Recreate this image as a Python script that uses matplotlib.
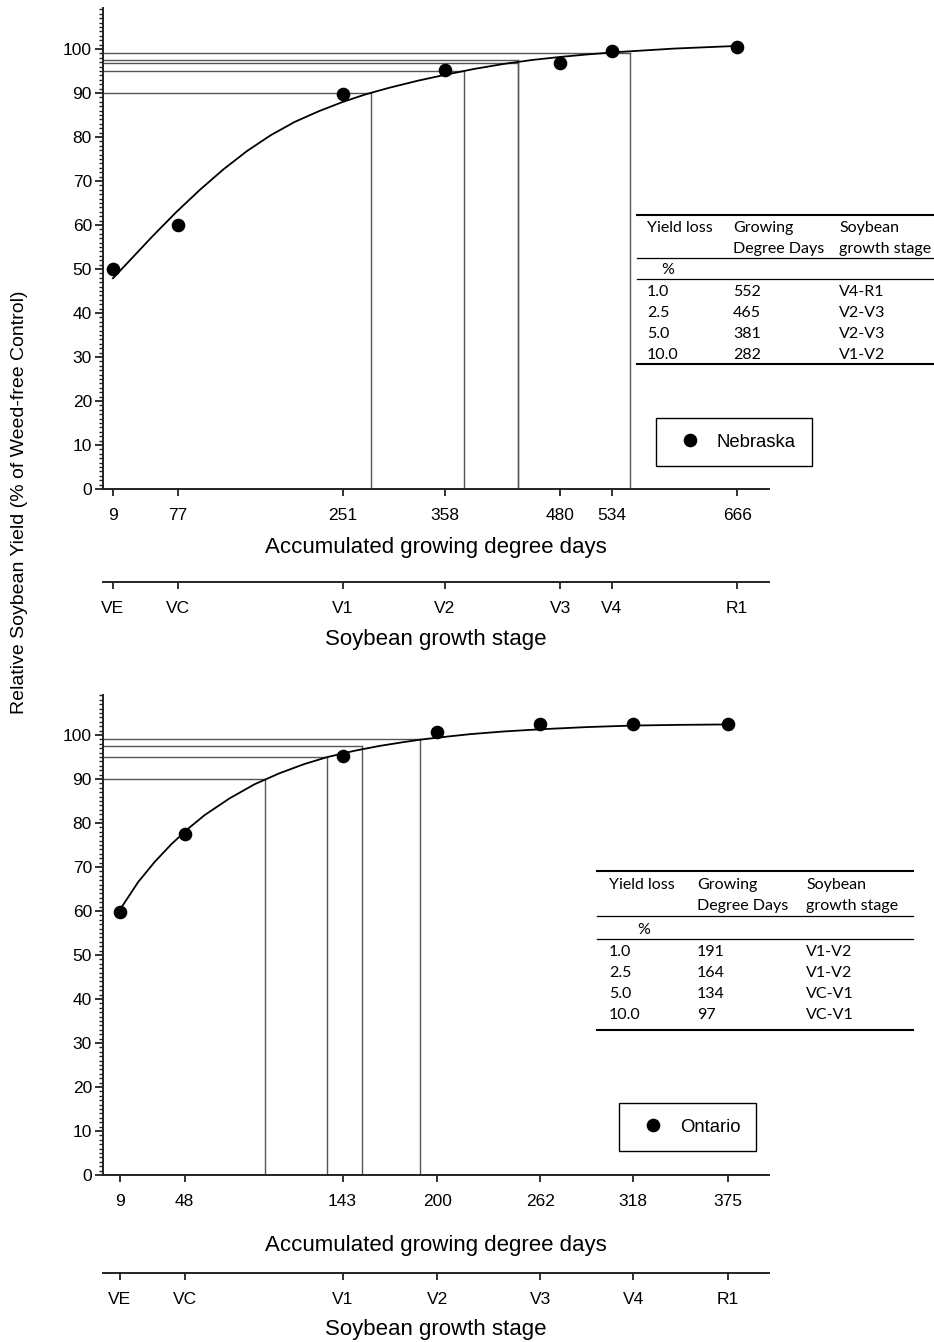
import matplotlib
matplotlib.use("Agg")
import matplotlib.pyplot as plt
from matplotlib.lines import Line2D
from matplotlib.ticker import MultipleLocator

# --- Nebraska ---------------------------------------------------------------
nb_gdd = [9, 77, 251, 358, 480, 534, 666]
nb_stage = ["VE", "VC", "V1", "V2", "V3", "V4", "R1"]
nb_yield = [50.0, 60.0, 89.7, 95.2, 96.8, 99.6, 100.4]
nb_curve_x = [9, 30, 50, 75, 100, 125, 150, 175, 200, 225, 250, 275, 300, 330, 360,
              390, 420, 450, 480, 510, 540, 570, 600, 633, 666]
nb_curve_y = [47.9, 52.7, 57.3, 62.8, 67.9, 72.6, 76.8, 80.4, 83.4, 85.8, 87.9, 89.7, 91.2, 92.8, 94.2,
              95.5, 96.6, 97.5, 98.2, 98.8, 99.3, 99.7, 100.1, 100.4, 100.7]
nb_guide_y = [90, 95, 96.8, 97.5, 99]
nb_guide_x = [281, 378, 435, 435, 553]
nb_table = [
    ("1.0", "552", "V4-R1"),
    ("2.5", "465", "V2-V3"),
    ("5.0", "381", "V2-V3"),
    ("10.0", "282", "V1-V2"),
]

# --- Ontario ----------------------------------------------------------------
on_gdd = [9, 48, 143, 200, 262, 318, 375]
on_stage = ["VE", "VC", "V1", "V2", "V3", "V4", "R1"]
on_yield = [59.7, 77.5, 95.2, 100.6, 102.4, 102.4, 102.4]
on_curve_x = [9, 20, 30, 40, 50, 60, 75, 90, 105, 120, 134, 150, 165, 180, 191, 205, 220, 240,
              262, 290, 318, 345, 375]
on_curve_y = [60.3, 66.6, 71.2, 75.2, 78.7, 81.8, 85.6, 88.8, 91.3, 93.4, 95.0, 96.4, 97.5, 98.4,
              99.0, 99.6, 100.2, 100.8, 101.3, 101.8, 102.15, 102.3, 102.4]
on_guide_y = [90, 95, 97.5, 99]
on_guide_x = [96.5, 133.5, 154.5, 189.5]
on_table = [
    ("1.0", "191", "V1-V2"),
    ("2.5", "164", "V1-V2"),
    ("5.0", "134", "VC-V1"),
    ("10.0", "97", "VC-V1"),
]

table_head1 = ["Yield loss", "Growing", "Soybean"]
table_head2 = ["", "Degree Days", "growth stage"]

W, H = 934, 1342
SANS = ["Liberation Sans", "DejaVu Sans"]
TABLE_FONT = ["Lato", "DejaVu Sans"]

fig = plt.figure(figsize=(W / 100, H / 100), dpi=100)


def px_axes(left, top, right, bottom):
    return fig.add_axes([left / W, 1 - bottom / H, (right - left) / W, (bottom - top) / H])


def fy(y):
    return 1 - y / H


def fx(x):
    return x / W


def draw_panel(top, bottom, xlim, gdd, yld, cx, cy, gx, gy):
    ax = px_axes(103, top, 769, bottom)
    ax.set_xlim(*xlim)
    ax.set_ylim(0, (bottom - top) / 4.4)
    for s in ("top", "right"):
        ax.spines[s].set_visible(False)
    for s in ("left", "bottom"):
        ax.spines[s].set_linewidth(1.4)
        ax.spines[s].set_color("#222222")

    # guide lines down to the axis and across to the y axis
    for x, y in zip(gx, gy):
        ax.plot([xlim[0], x], [y, y], color="#555555", lw=1.0, zorder=1)
        ax.plot([x, x], [0, y], color="#555555", lw=1.0, zorder=1)

    ax.plot(cx, cy, color="black", lw=1.3, zorder=2, solid_joinstyle="round")
    ax.plot(gdd, yld, "o", color="black", ms=8.8, zorder=3, clip_on=False)

    ax.set_xticks(gdd)
    ax.set_xticklabels([str(g) for g in gdd], family=SANS, fontsize=12.5)
    ax.set_yticks(range(0, 101, 10))
    ax.set_yticklabels([str(v) for v in range(0, 101, 10)], family=SANS, fontsize=12.5)
    ax.yaxis.set_minor_locator(MultipleLocator(1))
    ax.tick_params(axis="x", direction="out", length=5, width=1.3, pad=9, colors="#222222")
    ax.tick_params(axis="y", which="major", direction="out", length=6, width=1.3, pad=2, colors="#222222")
    ax.tick_params(axis="y", which="minor", direction="out", length=3, width=1.0, colors="#222222")
    for t in ax.get_xticklabels() + ax.get_yticklabels():
        t.set_color("black")

    handle = Line2D([], [], marker="o", ls="none", color="black", ms=8.8)
    return ax, handle


def stage_axis(y, xlim, gdd, stage):
    sx = px_axes(103, y - 1, 769, y)
    sx.set_xlim(*xlim)
    sx.set_ylim(0, 1)
    for s in ("top", "right", "left"):
        sx.spines[s].set_visible(False)
    sx.spines["bottom"].set_linewidth(1.4)
    sx.spines["bottom"].set_color("#222222")
    sx.set_yticks([])
    sx.set_xticks(gdd)
    sx.set_xticklabels(stage, family=SANS, fontsize=12.5)
    sx.tick_params(axis="x", direction="out", length=5, width=1.3, pad=9, colors="#222222")
    for t in sx.get_xticklabels():
        t.set_color("black")
    return sx


def legend(ax, handle, name, left, top):
    leg = ax.legend(
        [handle], [name],
        loc="upper left",
        bbox_to_anchor=(fx(left), fy(top)),
        bbox_transform=fig.transFigure,
        frameon=True, fancybox=False, edgecolor="black",
        borderpad=0.85, borderaxespad=0, handlelength=1.95, handletextpad=0.5,
        prop={"family": SANS, "size": 13.3},
    )
    leg.get_frame().set_linewidth(1.0)
    leg.get_frame().set_alpha(1)


def draw_table(x0, x1, cols, line_ys, head_ys, pct_xy, row_ys, rows):
    kw = dict(family=TABLE_FONT, fontsize=11.5, va="center", ha="left")
    for i, ly in enumerate(line_ys):
        lw = 1.5 if i in (0, len(line_ys) - 1) else 0.9
        fig.add_artist(Line2D([fx(x0), fx(x1)], [fy(ly), fy(ly)], color="black", lw=lw))
    for c, h1, h2 in zip(cols, table_head1, table_head2):
        fig.text(fx(c), fy(head_ys[0]), h1, **kw)
        if h2:
            fig.text(fx(c), fy(head_ys[1]), h2, **kw)
    fig.text(fx(pct_xy[0]), fy(pct_xy[1]), "%", family=TABLE_FONT, fontsize=11.5, va="center", ha="center")
    for ry, row in zip(row_ys, rows):
        for c, val in zip(cols, row):
            fig.text(fx(c), fy(ry), val, **kw)


# top panel: Nebraska
nb_xlim = (-1.5, 699.5)
ax1, h1 = draw_panel(8, 489, nb_xlim, nb_gdd, nb_yield, nb_curve_x, nb_curve_y, nb_guide_x, nb_guide_y)
stage_axis(582, nb_xlim, nb_gdd, nb_stage)
legend(ax1, h1, "Nebraska", 656, 418)
draw_table(637, 934, [647, 733, 839], [215, 258, 279, 364], [228, 249], (668, 270),
           [292, 313, 334, 355], nb_table)

# bottom panel: Ontario
on_xlim = (-1.2, 399.7)
ax2, h2 = draw_panel(695, 1175, on_xlim, on_gdd, on_yield, on_curve_x, on_curve_y, on_guide_x, on_guide_y)
stage_axis(1273, on_xlim, on_gdd, on_stage)
legend(ax2, h2, "Ontario", 619, 1103)
draw_table(597, 913, [609, 697, 806], [871, 916, 939, 1030], [885, 906], (644, 930),
           [952, 973, 994, 1015], on_table)

# axis titles
title_kw = dict(family=SANS, fontsize=16, ha="center", va="center")
fig.text(fx(436), fy(548), "Accumulated growing degree days", **title_kw)
fig.text(fx(436), fy(640), "Soybean growth stage", **title_kw)
fig.text(fx(436), fy(1245), "Accumulated growing degree days", **title_kw)
fig.text(fx(436), fy(1330), "Soybean growth stage", **title_kw)
fig.text(fx(20), fy(502), "Relative Soybean Yield (% of Weed-free Control)",
         family=SANS, fontsize=14, ha="center", va="center", rotation=90)

fig.savefig("out.png", dpi=100)
